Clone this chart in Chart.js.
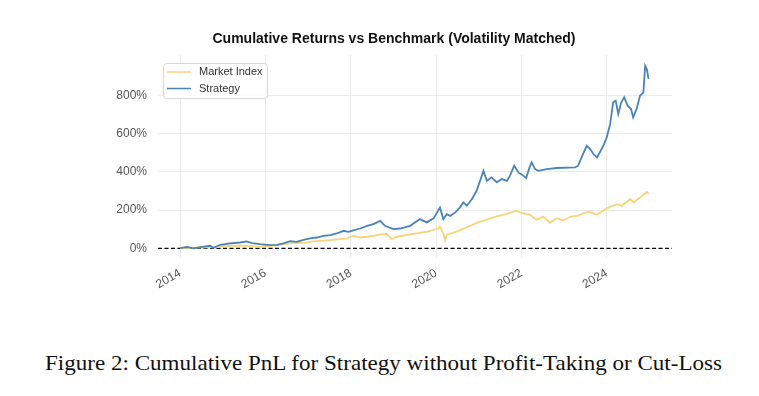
<!DOCTYPE html>
<html>
<head>
<meta charset="utf-8">
<script src="https://cdn.jsdelivr.net/npm/chart.js@4.4.1/dist/chart.umd.min.js"></script>
<style>
  body { margin: 0; background: #fff; width: 759px; height: 396px; overflow: hidden; position: relative; }
  #wrap { position: absolute; left: 0; top: 0; width: 759px; height: 330px; }
  #caption { position: absolute; top: 350px; left: 0; white-space: nowrap;
             font-family: "Liberation Serif", "DejaVu Serif", serif; font-size: 22px; color: #111;
             transform-origin: left top; }
</style>
</head>
<body>
<div id="wrap"><canvas id="chart"></canvas></div>
<div id="caption">Figure 2: Cumulative PnL for Strategy without Profit-Taking or Cut-Loss</div>
<script>
// ---- data ----
const xTicks = [2014, 2016, 2018, 2020, 2022, 2024];
const yTicks = [0, 200, 400, 600, 800];

const stratYears = [2014.00, 2014.16, 2014.31, 2014.47, 2014.70, 2014.78, 2014.94, 2015.17, 2015.41, 2015.56,
  2015.68, 2015.87, 2016.11, 2016.27, 2016.42, 2016.58, 2016.73, 2016.89, 2017.05, 2017.20,
  2017.36, 2017.52, 2017.67, 2017.83, 2017.94, 2018.06, 2018.22, 2018.38, 2018.53, 2018.69,
  2018.80, 2019.00, 2019.16, 2019.39, 2019.62, 2019.78, 2019.94, 2020.09, 2020.17, 2020.25,
  2020.33, 2020.45, 2020.56, 2020.64, 2020.72, 2020.84, 2020.95, 2021.07, 2021.11, 2021.19,
  2021.30, 2021.42, 2021.54, 2021.66, 2021.73, 2021.83, 2021.93, 2022.05, 2022.11, 2022.19,
  2022.24, 2022.32, 2022.40, 2022.59, 2022.83, 2023.26, 2023.33, 2023.41, 2023.53, 2023.61,
  2023.69, 2023.77, 2023.84, 2023.92, 2024.00, 2024.08, 2024.15, 2024.21, 2024.27, 2024.34,
  2024.41, 2024.49, 2024.57, 2024.62, 2024.70, 2024.78, 2024.86, 2024.90, 2024.94, 2024.98];
const stratValues = [1, 8, 0, 7, 14, 3, 19, 26, 31, 37,
  28, 22, 17, 19, 26, 38, 34, 45, 52, 57,
  66, 69, 78, 92, 87, 94, 104, 118, 127, 144,
  118, 101, 104, 118, 153, 136, 157, 214, 153, 179,
  170, 188, 214, 240, 223, 258, 301, 379, 405, 353,
  371, 345, 362, 353, 379, 432, 397, 379, 367, 423,
  449, 414, 405, 414, 420, 423, 432, 475, 536, 519,
  493, 475, 502, 536, 580, 649, 763, 771, 702, 763,
  789, 745, 728, 684, 728, 797, 815, 954, 937, 885];

const mktYears = [2014.00, 2014.30, 2014.78, 2015.17, 2015.56, 2015.87, 2016.27, 2016.58, 2016.73, 2016.89,
  2017.12, 2017.52, 2017.91, 2018.06, 2018.22, 2018.53, 2018.69, 2018.84, 2018.96, 2019.08,
  2019.47, 2019.78, 2020.05, 2020.09, 2020.17, 2020.21, 2020.25, 2020.45, 2020.72, 2020.95,
  2021.19, 2021.42, 2021.66, 2021.88, 2022.00, 2022.20, 2022.36, 2022.51, 2022.67, 2022.83,
  2022.99, 2023.14, 2023.33, 2023.57, 2023.77, 2024.00, 2024.23, 2024.35, 2024.55, 2024.63,
  2024.78, 2024.94, 2024.98];
const mktValues = [0, 4, 5, 14, 14, 8, 17, 26, 31, 28,
  37, 43, 52, 66, 57, 66, 73, 76, 49, 61,
  76, 87, 104, 114, 75, 43, 72, 85, 110, 133,
  150, 168, 180, 197, 186, 175, 150, 166, 134, 157,
  146, 165, 171, 193, 176, 209, 231, 223, 258, 240,
  266, 296, 284];

const MARKET_COLOR = '#f6d47c';
const STRAT_COLOR = '#4a84b7';

function toPoints(xs, ys) {
    return xs.map((x, i) => ({ x: x, y: ys[i] }));
}

// zero reference line + legend box inside the plot
const extras = {
    id: 'extras',
    beforeDatasetsDraw(chart) {
        const { ctx, chartArea, scales } = chart;
        const y0 = scales.y.getPixelForValue(0);
        ctx.save();
        ctx.strokeStyle = '#000';
        ctx.lineWidth = 1.2;
        ctx.setLineDash([4, 2.5]);
        ctx.beginPath();
        ctx.moveTo(chartArea.left, y0);
        ctx.lineTo(chartArea.right, y0);
        ctx.stroke();
        ctx.restore();
    },
    afterDraw(chart) {
        const { ctx, chartArea } = chart;
        const x = chartArea.left + 5, y = chartArea.top + 8, w = 104, h = 35;
        ctx.save();
        ctx.fillStyle = 'rgba(255,255,255,0.85)';
        ctx.strokeStyle = '#d6d6d6';
        ctx.lineWidth = 1;
        ctx.beginPath();
        ctx.roundRect(x + 0.5, y + 0.5, w, h, 3);
        ctx.fill();
        ctx.stroke();
        const items = [chart.data.datasets[0], chart.data.datasets[1]];
        ctx.font = '11px "Liberation Sans", Arial, sans-serif';
        ctx.textBaseline = 'middle';
        items.forEach((ds, i) => {
            const ly = y + 9 + i * 16.5;
            ctx.strokeStyle = ds.borderColor;
            ctx.lineWidth = 1.5;
            ctx.beginPath();
            ctx.moveTo(x + 4, ly);
            ctx.lineTo(x + 28, ly);
            ctx.stroke();
            ctx.fillStyle = '#333';
            ctx.fillText(ds.label, x + 36, ly);
        });
        ctx.restore();
    }
};

const ctx = document.getElementById('chart');
new Chart(ctx, {
    type: 'line',
    data: {
        datasets: [
            {
                label: 'Market Index',
                data: toPoints(mktYears, mktValues),
                borderColor: MARKET_COLOR,
                borderWidth: 1.8,
                pointRadius: 0,
                tension: 0,
                order: 1
            },
            {
                label: 'Strategy',
                data: toPoints(stratYears, stratValues),
                borderColor: STRAT_COLOR,
                borderWidth: 1.8,
                pointRadius: 0,
                tension: 0,
                order: 0
            }
        ]
    },
    options: {
        responsive: true,
        maintainAspectRatio: false,
        animation: false,
        layout: { padding: { left: 116, right: 87, top: 0, bottom: 0 } },
        plugins: {
            legend: { display: false },
            tooltip: { enabled: false },
            title: {
                display: true,
                text: 'Cumulative Returns vs Benchmark (Volatility Matched)',
                color: '#111',
                font: { family: '"Liberation Sans", Arial, sans-serif', size: 14, weight: 'bold' },
                padding: { top: 31, bottom: 7.2 }
            }
        },
        scales: {
            x: {
                type: 'linear',
                min: 2013.48,
                max: 2025.53,
                afterBuildTicks: s => { s.ticks = xTicks.map(v => ({ value: v })); },
                afterFit: s => { s.height = 72; },
                border: { display: false },
                grid: { color: '#ebebeb', lineWidth: 1, drawTicks: false },
                ticks: {
                    autoSkip: false,
                    minRotation: 30,
                    maxRotation: 30,
                    padding: 8,
                    color: '#555',
                    font: { family: '"Liberation Sans", Arial, sans-serif', size: 12 },
                    callback: v => String(v)
                }
            },
            y: {
                min: -50,
                max: 1010,
                afterBuildTicks: s => { s.ticks = yTicks.map(v => ({ value: v })); },
                afterFit: s => { s.width = 42; },
                border: { display: false },
                grid: { color: '#ebebeb', lineWidth: 1, drawTicks: false },
                ticks: {
                    padding: 11,
                    color: '#555',
                    font: { family: '"Liberation Sans", Arial, sans-serif', size: 12 },
                    callback: v => v + '%'
                }
            }
        }
    },
    plugins: [extras]
});

// stretch caption to the reference width, centred
const cap = document.getElementById('caption');
const capW = cap.getBoundingClientRect().width;
const targetW = 677;
cap.style.transform = 'scaleX(' + (targetW / capW) + ')';
cap.style.left = (383.5 - targetW / 2) + 'px';
</script>
</body>
</html>
